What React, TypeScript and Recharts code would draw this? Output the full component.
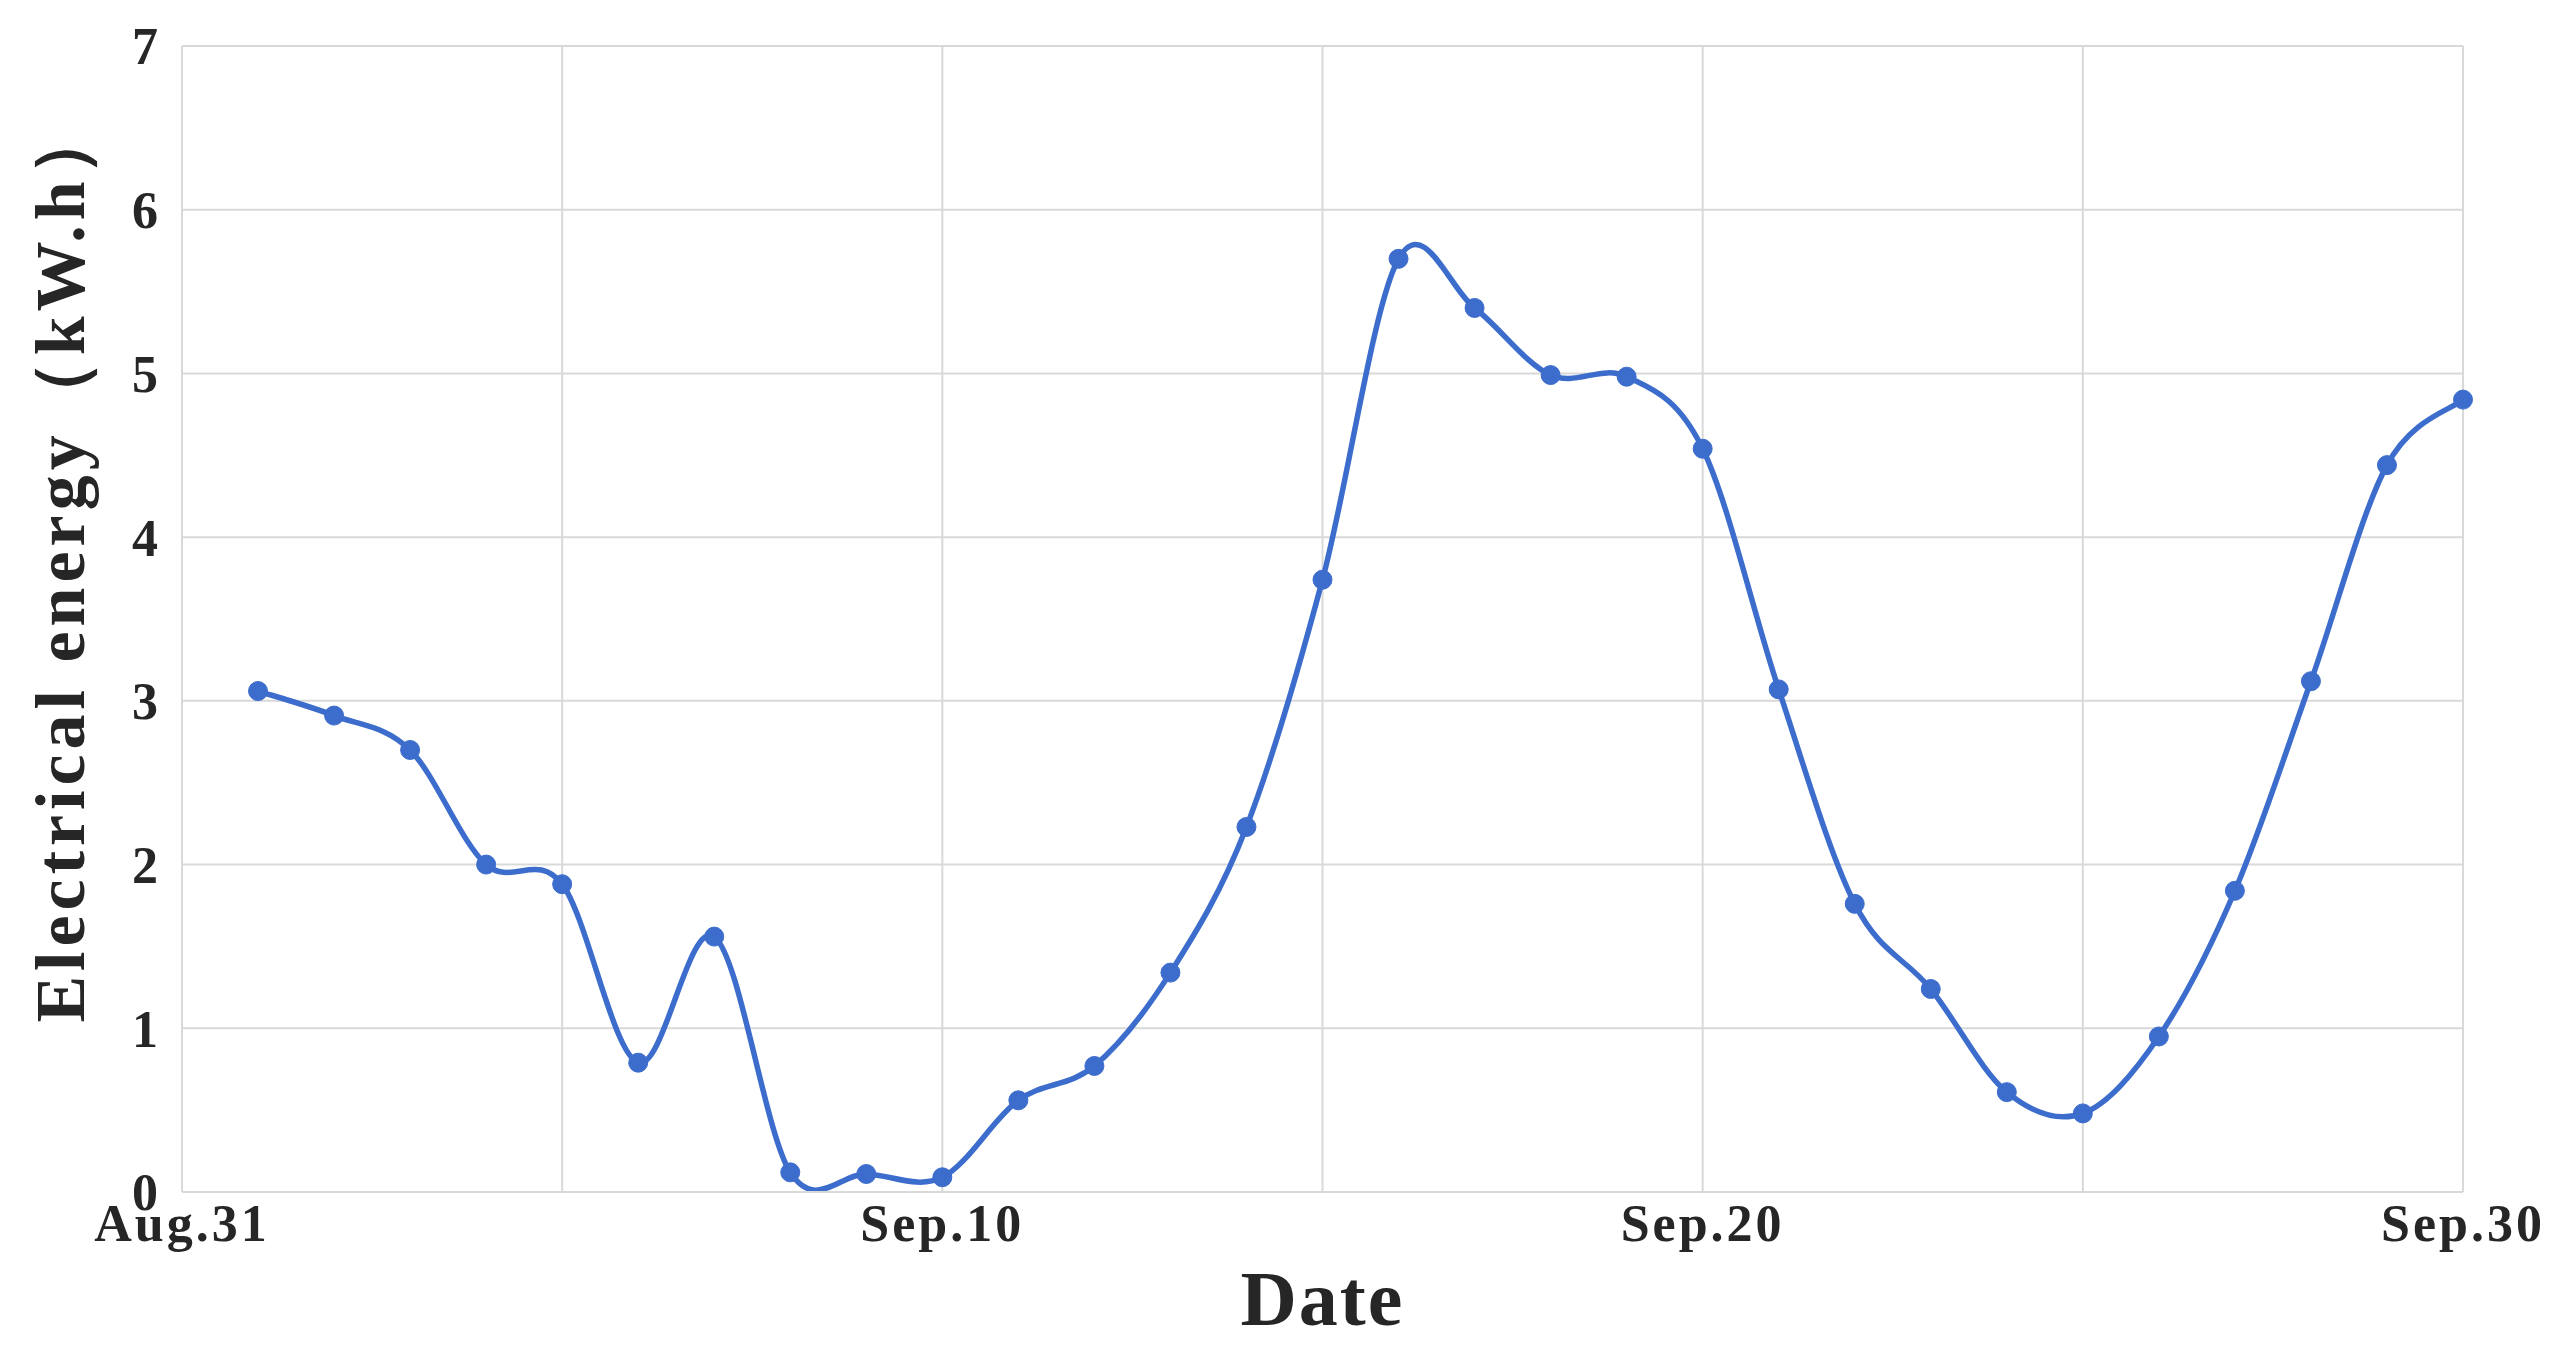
import React from "react";
import { LineChart, Line, XAxis, YAxis, CartesianGrid, Label } from "recharts";

const days = [1, 2, 3, 4, 5, 6, 7, 8, 9, 10, 11, 12, 13, 14, 15, 16, 17, 18, 19, 20, 21, 22, 23, 24, 25, 26, 27, 28, 29, 30];
const energy = [3.06, 2.91, 2.7, 2.0, 1.88, 0.79, 1.56, 0.12, 0.11, 0.09, 0.56, 0.77, 1.34, 2.23, 3.74, 5.7, 5.4, 4.99, 4.98, 4.54, 3.07, 1.76, 1.24, 0.61, 0.48, 0.95, 1.84, 3.12, 4.44, 4.84];
const xTickDays = [0, 5, 10, 15, 20, 25, 30];
const xTickLabels = ["Aug.31", "", "Sep.10", "", "Sep.20", "", "Sep.30"];
const yTicks = [0, 1, 2, 3, 4, 5, 6, 7];

const data = days.map((d, i) => ({ day: d, value: energy[i] }));

const FONT = "'Liberation Serif', 'DejaVu Serif', serif";
const LINE_COLOR = "#3d6dcc";

// Excel-like smoothing (Catmull-Rom / cardinal with tension 0)
function excelSmooth(context: any) {
  let pts: number[][] = [];
  return {
    areaStart() {},
    areaEnd() {},
    lineStart() {
      pts = [];
    },
    point(x: number, y: number) {
      pts.push([+x, +y]);
    },
    lineEnd() {
      const n = pts.length;
      if (!n) return;
      context.moveTo(pts[0][0], pts[0][1]);
      for (let i = 0; i < n - 1; i++) {
        const p0 = pts[i - 1] || pts[i];
        const p1 = pts[i];
        const p2 = pts[i + 1];
        const p3 = pts[i + 2] || pts[i + 1];
        const c1x = p1[0] + (p2[0] - p0[0]) / 6;
        const c1y = p1[1] + (p2[1] - p0[1]) / 6;
        const c2x = p2[0] - (p3[0] - p1[0]) / 6;
        const c2y = p2[1] - (p3[1] - p1[1]) / 6;
        context.bezierCurveTo(c1x, c1y, c2x, c2y, p2[0], p2[1]);
      }
    },
  };
}

export default function App() {
  return (
    <div style={{ position: "absolute", left: 0, top: 0, width: 2570, height: 1352, background: "#fff" }}>
      <LineChart width={2570} height={1352} data={data} margin={{ top: 46, right: 107, bottom: 0, left: 0 }}>
        <CartesianGrid stroke="#d9d9d9" strokeWidth={2} />
        <XAxis
          type="number"
          dataKey="day"
          domain={[0, 30]}
          ticks={xTickDays}
          tickFormatter={(v: number) => xTickLabels[xTickDays.indexOf(v)] ?? ""}
          interval={0}
          tickLine={false}
          axisLine={{ stroke: "#d9d9d9", strokeWidth: 2 }}
          tickMargin={6}
          height={160}
          tick={{ fontFamily: FONT, fontSize: 52, fontWeight: 700, fill: "#262626", letterSpacing: 3 }}
        >
          <Label
            content={(props: any) => {
              const vb = props.viewBox;
              return (
                <text
                  x={vb.x + vb.width / 2}
                  y={1298}
                  textAnchor="middle"
                  dominantBaseline="central"
                  style={{ fontFamily: FONT, fontSize: 78, fontWeight: 700, fill: "#262626", letterSpacing: 2 }}
                >
                  Date
                </text>
              );
            }}
          />
        </XAxis>
        <YAxis
          type="number"
          domain={[0, 7]}
          ticks={yTicks}
          interval={0}
          tickLine={false}
          axisLine={{ stroke: "#d9d9d9", strokeWidth: 2 }}
          tickMargin={18}
          width={182}
          tick={{ fontFamily: FONT, fontSize: 52, fontWeight: 700, fill: "#262626" }}
        >
          <Label
            content={() => (
              <text
                x={60}
                y={562}
                transform="rotate(-90, 60, 562)"
                textAnchor="middle"
                dominantBaseline="central"
                style={{ fontFamily: FONT, fontSize: 70, fontWeight: 700, fill: "#262626", letterSpacing: 5 }}
              >
                Electrical energy（kW.h）
              </text>
            )}
          />
        </YAxis>
        <Line
          type={excelSmooth as any}
          dataKey="value"
          stroke={LINE_COLOR}
          strokeWidth={5.5}
          dot={{ r: 9.5, fill: LINE_COLOR, stroke: LINE_COLOR, strokeWidth: 1 }}
          isAnimationActive={false}
        />
      </LineChart>
    </div>
  );
}
